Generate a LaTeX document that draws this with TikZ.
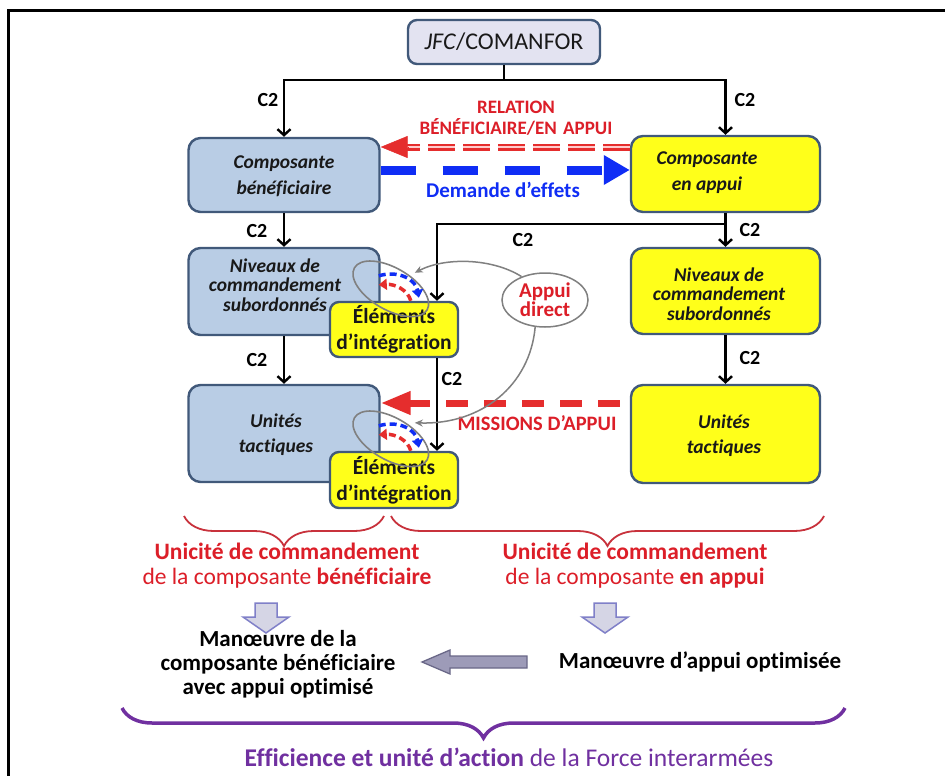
\documentclass[tikz,border=0pt]{standalone}
\usepackage{fontspec}
\setmainfont{Carlito}[Ligatures={NoCommon}]
\usetikzlibrary{arrows.meta,shapes.geometric,decorations.pathreplacing,calc}

\definecolor{bluefill}{HTML}{B9CDE5}
\definecolor{boxedge}{HTML}{41597A}
\definecolor{yellowfill}{HTML}{FFFF1A}
\definecolor{jfcfill}{HTML}{E3E3F1}
\definecolor{relred}{HTML}{E52D2D}
\definecolor{textred}{HTML}{DC1E28}
\definecolor{effblue}{HTML}{0F2DF5}
\definecolor{sepgray}{HTML}{808080}
\definecolor{bracered}{HTML}{C8323C}
\definecolor{forcepurple}{HTML}{7030A0}
\definecolor{arrowfill}{HTML}{D5D5E5}
\definecolor{arrowedge}{HTML}{8080C8}
\definecolor{leftfill}{HTML}{9D9BB8}
\definecolor{leftedge}{HTML}{6A6888}

\tikzset{
  box/.style={draw=boxedge, line width=2.4pt, rounded corners=12pt, align=center, text=black!90, inner sep=1pt},
  bluebox/.style={box, fill=bluefill},
  yellowbox/.style={box, fill=yellowfill},
  compfont/.style={font=\bfseries\itshape\fontsize{19.5}{26}\selectfont, align=center, text=black!90},
  levelfont/.style={font=\bfseries\itshape\fontsize{19.5}{19.5}\selectfont, align=center, text=black!90},
  unitfont/.style={font=\bfseries\itshape\fontsize{19.5}{25}\selectfont, align=center, text=black!90},
  elemfont/.style={font=\bfseries\fontsize{21.5}{26}\selectfont},
  c2/.style={font=\bfseries\fontsize{20}{22}\selectfont},
  cline/.style={line width=2.4pt},
  carrow/.style={line width=2.4pt, -{Straight Barb[length=6pt,width=13pt]}},
  redbold/.style={text=textred, font=\bfseries\fontsize{19}{21}\selectfont, align=center},
  graycurve/.style={sepgray, line width=1.5pt, -{Stealth[length=8pt,width=7pt]}},
  smalldash/.style={line width=3.5pt, dash pattern=on 7pt off 4pt, -{Triangle[length=8pt,width=11pt]}},
  integ/.pic={
    \draw[sepgray, line width=1.6pt, rotate around={-30:(62,-12)}] (62,-12) ellipse [x radius=42, y radius=21];
    \draw[effblue, smalldash] (50,-25) .. controls (70,-31) and (87,-21) .. (90,-3);
    \draw[relred, smalldash] (82,0) .. controls (79,-11) and (66,-17) .. (50,-16);
    \coordinate (-tgt) at (86,-28);
  },
  downarrow/.pic={
    \draw[arrowedge, fill=arrowfill, line width=1.5pt, line join=miter]
      (-11,0) -- (11,0) -- (11,14) -- (23,14) -- (0,30) -- (-23,14) -- (-11,14) -- cycle;
  },
  leftarrow/.pic={
    \draw[leftedge, fill=leftfill, line width=1.3pt, line join=miter]
      (0,0) -- (28,-12) -- (28,-6) -- (105,-6) -- (105,6) -- (28,6) -- (28,12) -- cycle;
  }
}

\begin{document}
\begin{tikzpicture}[x=1pt, y=-1pt]
\useasboundingbox (0,0) rectangle (945,776);
\fill[white] (0,0) rectangle (945,776);
% outer frame
\draw[line width=2.5pt] (8.5,800) -- (8.5,10.5) -- (960,10.5);

% command boxes
\node[box, fill=jfcfill, rounded corners=9pt, minimum width=192pt, minimum height=44pt,
      font=\fontsize{24}{28}\selectfont] (jfc) at (504,42) {\textit{JFC}/COMANFOR};

\node[bluebox, minimum width=191pt, minimum height=74pt] (lcomp) at (284,175) {};
\node[compfont] (lcomptxt) at (284,176) {Composante\\bénéficiaire};
\node[yellowbox, minimum width=189pt, minimum height=76pt] (rcomp) at (725.5,174) {};
\node[compfont] (rcomptxt) at (707,173) {Composante\\en appui};

\node[bluebox, minimum width=191pt, minimum height=87pt] (lniv) at (284,291.5) {};
\node[levelfont] (lnivtxt) at (275,285) {Niveaux de\\commandement\\subordonnés};
\node[yellowbox, minimum width=189pt, minimum height=86pt] (rniv) at (725.5,291) {};
\node[levelfont] (rnivtxt) at (719,294) {Niveaux de\\commandement\\subordonnés};

\node[bluebox, minimum width=191pt, minimum height=97pt] (luni) at (284,433.5) {};
\node[unitfont] (lunitxt) at (276,435) {Unités\\tactiques};
\node[yellowbox, minimum width=189pt, minimum height=98pt] (runi) at (725.5,434) {};
\node[unitfont] (runitxt) at (724,436) {Unités\\tactiques};

\node[yellowbox, elemfont, rounded corners=9pt, minimum width=128pt, minimum height=55pt] (elem1) at (394,329.5) {Éléments\\d’intégration};
\node[yellowbox, elemfont, rounded corners=9pt, minimum width=128pt, minimum height=56pt] (elem2) at (394,480) {Éléments\\d’intégration};

% C2 command links
\coordinate (bus) at (504,80);
\draw[cline] (jfc.south) -- (bus);
\draw[carrow] (bus) -| (lcomp.north);
\draw[carrow] (bus) -| (rcomp.north);
\draw[carrow] (lcomp.south) -- (lniv.north);
\draw[carrow] (lniv.south) -- (luni.north);
\draw[carrow] (rcomp.south) -- (rniv.north);
\draw[carrow] (rniv.south) -- (runi.north);
\coordinate (tap) at ($(rcomp.south)+(0,11)$);
\draw[carrow] (tap) -| ([xshift=43pt]elem1.north);

\node[c2] (c2a) at (268,100) {C2};
\node[c2] (c2b) at (745,100) {C2};
\node[c2] (c2c) at (257,231) {C2};
\node[c2] (c2d) at (257,360) {C2};
\node[c2] (c2e) at (750,230) {C2};
\node[c2] (c2f) at (750,358) {C2};
\node[c2] (c2g) at (523,240) {C2};
\node[c2] (c2h) at (452,379) {C2};

% beneficiary / supporting relation
\coordinate (relend) at ([yshift=28pt]lcomp.east);
\draw[relred, line width=2.2pt, double=red!20, double distance=2.6pt, dash pattern=on 27pt off 8pt]
  ([yshift=27pt]rcomp.west) -- ([xshift=25pt]relend);
\draw[relred, line width=0.5pt, -{Triangle[length=27pt,width=22pt]}] ([xshift=27pt]relend) -- (relend);
\node[redbold] (reltxt) at (516,118) {RELATION\\BÉNÉFICIAIRE/EN\,\,APPUI};

% request for effects
\draw[effblue, line width=9pt, dash pattern=on 35pt off 27pt, -{Triangle[length=26pt,width=28pt]}]
  ([yshift=5pt]lcomp.east) -- ([yshift=4pt]rcomp.west);
\node[text=effblue, font=\bfseries\fontsize{21}{22}\selectfont] (effets) at (503,190) {Demande d’effets};

% support missions
\draw[relred, line width=7pt, dash pattern=on 22pt off 16pt, -{Triangle[length=30pt,width=22pt]}]
  ([xshift=-10pt,yshift=31pt]runi.west) -- ([yshift=30.5pt]luni.east);
\node[redbold, font=\bfseries\fontsize{20.5}{22}\selectfont] (missions) at (537,423) {MISSIONS D’APPUI};

\draw[carrow] ([xshift=43pt]elem1.south) -- ([xshift=43pt]elem2.north);

% integration elements
\pic (ia) at (elem1.north west) {integ};
\pic (ib) at (elem2.north west) {integ};

% direct support
\node[ellipse, draw=sepgray, line width=1.5pt, fill=white, minimum width=86pt, minimum height=54pt,
      inner sep=0pt, redbold, font=\bfseries\fontsize{21}{19}\selectfont] (appui) at (545,300) {Appui\\direct};
\draw[graycurve] (appui.135) .. controls (492,258) and (445,257) .. (ia-tgt);
\draw[graycurve] (appui.250) .. controls (530,385) and (482,425) .. (ib-tgt);

% unity of command
\draw[bracered, line width=1.8pt, decorate, decoration={brace, amplitude=30pt}] (384,516) -- (184,516);
\draw[bracered, line width=1.8pt, decorate, decoration={brace, amplitude=30pt}] (824,516) -- (391,516);
\node[text=textred, align=center, font=\fontsize{23.5}{25}\selectfont] (unil) at (287,566)
  {\textbf{Unicité de commandement}\\de la composante \textbf{bénéficiaire}};
\node[text=textred, align=center, font=\fontsize{23.5}{25}\selectfont] (unir) at (635,566)
  {\textbf{Unicité de commandement}\\de la composante \textbf{en appui}};

\pic at (266,603) {downarrow};
\pic at (605,603) {downarrow};

\node[align=center, font=\bfseries\fontsize{23}{24}\selectfont] (manl) at (278,664)
  {Manœuvre de la\\composante bénéficiaire\\avec appui optimisé};
\node[font=\bfseries\fontsize{23}{24}\selectfont] (manr) at (700,662) {Manœuvre d’appui optimisée};
\pic at (422,662) {leftarrow};

% joint force
\draw[forcepurple, line width=3.5pt, decorate, decoration={brace, amplitude=30pt}] (845,708) -- (122,708);
\node[text=forcepurple, font=\fontsize{25.5}{28}\selectfont] (eff) at (509,757)
  {\textbf{Efficience et unité d’action} de la Force interarmées};
\end{tikzpicture}
\end{document}
